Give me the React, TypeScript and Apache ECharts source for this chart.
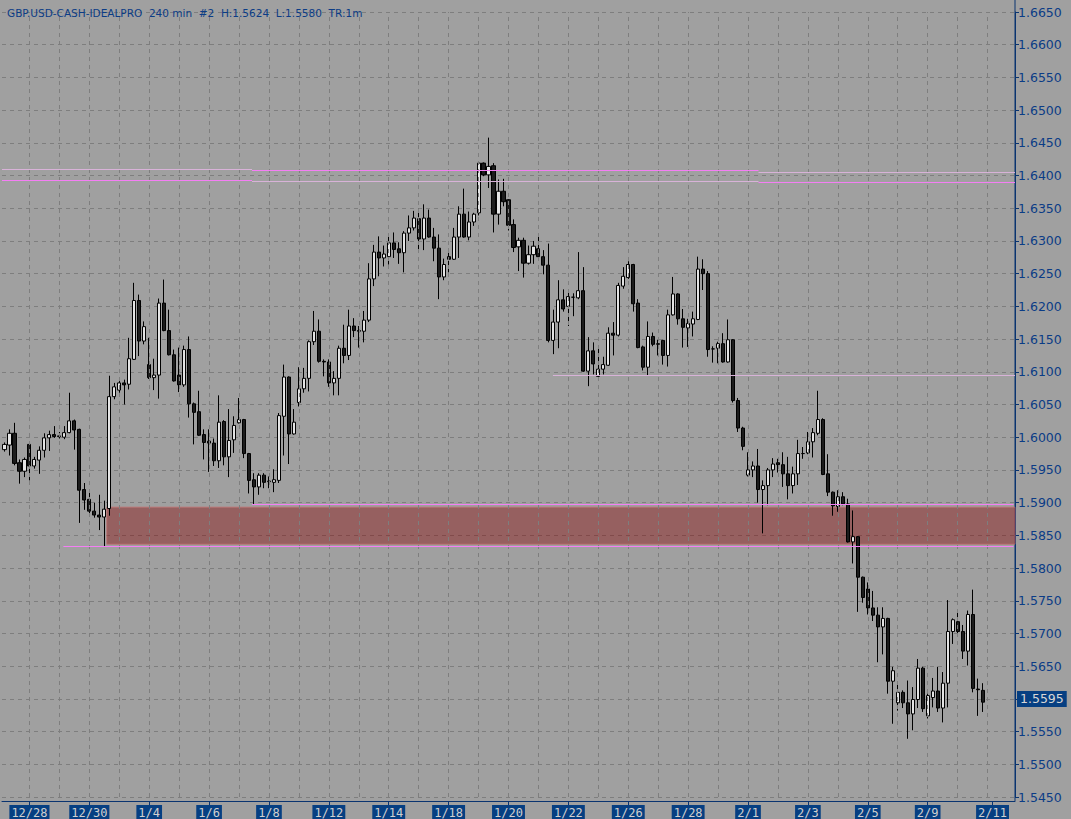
import React, { useEffect, useRef } from 'react';
import * as echarts from 'echarts';

// ---- Data (GBP.USD 240 min bars) ----
const opens = [
  1.5981, 1.5988, 1.6006, 1.5961, 1.5948, 1.5989, 1.5956, 1.5965, 1.5980, 1.5999,
  1.6004, 1.6001, 1.6000, 1.6007, 1.6025, 1.6012, 1.5920, 1.5905, 1.5887, 1.5881,
  1.5878, 1.5891, 1.6062, 1.6072, 1.6083, 1.6081, 1.6119, 1.6209, 1.6147, 1.6111,
  1.6091, 1.6095, 1.6205, 1.6163, 1.6126, 1.6095, 1.6080, 1.6134, 1.6051, 1.6039,
  1.6004, 1.5994, 1.5991, 1.5964, 1.6024, 1.5970, 1.5996, 1.6022, 1.6027, 1.5975,
  1.5935, 1.5924, 1.5942, 1.5932, 1.5931, 1.5934, 1.6032, 1.6092, 1.6005, 1.6053,
  1.6074, 1.6090, 1.6146, 1.6162, 1.6116, 1.6115, 1.6083, 1.6090, 1.6136, 1.6125,
  1.6170, 1.6163, 1.6162, 1.6179, 1.6242, 1.6283, 1.6274, 1.6276, 1.6297, 1.6288,
  1.6282, 1.6312, 1.6320, 1.6334, 1.6303, 1.6335, 1.6306, 1.6289, 1.6245, 1.6276,
  1.6272, 1.6306, 1.6341, 1.6306, 1.6329, 1.6343, 1.6419, 1.6401, 1.6415, 1.6341,
  1.6376, 1.6363, 1.6325, 1.6291, 1.6301, 1.6266, 1.6279, 1.6288, 1.6276, 1.6263,
  1.6148, 1.6176, 1.6210, 1.6200, 1.6214, 1.6213, 1.6224, 1.6101, 1.6132, 1.6093,
  1.6104, 1.6110, 1.6159, 1.6156, 1.6231, 1.6244, 1.6264, 1.6205, 1.6138, 1.6107,
  1.6154, 1.6142, 1.6148, 1.6125, 1.6187, 1.6219, 1.6181, 1.6167, 1.6173, 1.6180,
  1.6257, 1.6250, 1.6135, 1.6136, 1.6143, 1.6115, 1.6149, 1.6056, 1.6014, 1.5942,
  1.5950, 1.5956, 1.5920, 1.5926, 1.5950, 1.5961, 1.5958, 1.5944, 1.5926, 1.5944,
  1.5975, 1.5976, 1.5993, 1.6006, 1.6027, 1.5944, 1.5916, 1.5894, 1.5909, 1.5898,
  1.5840, 1.5848, 1.5786, 1.5768, 1.5739, 1.5728, 1.5710, 1.5723, 1.5627, 1.5594,
  1.5610, 1.5594, 1.5577, 1.5599, 1.5647, 1.5574, 1.5602, 1.5612, 1.5586, 1.5624,
  1.5703, 1.5718, 1.5703, 1.5673, 1.5729, 1.5615, 1.5613
];
const highs = [
  1.5992, 1.6012, 1.6022, 1.5966, 1.5969, 1.5990, 1.5970, 1.5986, 1.6006, 1.6010,
  1.6017, 1.6008, 1.6017, 1.6068, 1.6027, 1.6013, 1.5930, 1.5917, 1.5900, 1.5912,
  1.5903, 1.6094, 1.6083, 1.6088, 1.6088, 1.6152, 1.6236, 1.6218, 1.6177, 1.6152,
  1.6120, 1.6212, 1.6241, 1.6195, 1.6134, 1.6137, 1.6140, 1.6154, 1.6053, 1.6071,
  1.6012, 1.6012, 1.5998, 1.6064, 1.6026, 1.6043, 1.6032, 1.6060, 1.6028, 1.5976,
  1.5945, 1.5945, 1.5945, 1.5940, 1.5951, 1.6037, 1.6111, 1.6093, 1.6043, 1.6107,
  1.6106, 1.6148, 1.6193, 1.6180, 1.6119, 1.6119, 1.6101, 1.6140, 1.6172, 1.6195,
  1.6182, 1.6170, 1.6193, 1.6266, 1.6294, 1.6307, 1.6293, 1.6308, 1.6313, 1.6298,
  1.6315, 1.6339, 1.6346, 1.6349, 1.6356, 1.6348, 1.6320, 1.6310, 1.6273, 1.6288,
  1.6320, 1.6353, 1.6380, 1.6345, 1.6343, 1.6422, 1.6420, 1.6458, 1.6419, 1.6394,
  1.6395, 1.6364, 1.6333, 1.6305, 1.6305, 1.6293, 1.6300, 1.6311, 1.6286, 1.6296,
  1.6195, 1.6240, 1.6226, 1.6225, 1.6220, 1.6283, 1.6260, 1.6153, 1.6145, 1.6136,
  1.6123, 1.6168, 1.6176, 1.6236, 1.6260, 1.6269, 1.6265, 1.6211, 1.6140, 1.6177,
  1.6160, 1.6149, 1.6149, 1.6195, 1.6245, 1.6220, 1.6196, 1.6181, 1.6192, 1.6276,
  1.6272, 1.6254, 1.6139, 1.6146, 1.6159, 1.6180, 1.6150, 1.6060, 1.6016, 1.5977,
  1.5963, 1.5982, 1.5934, 1.5953, 1.5968, 1.5967, 1.5977, 1.5970, 1.5955, 1.5996,
  1.5985, 1.6008, 1.6014, 1.6071, 1.6029, 1.5974, 1.5917, 1.5919, 1.5916, 1.5906,
  1.5888, 1.5849, 1.5787, 1.5778, 1.5765, 1.5740, 1.5740, 1.5724, 1.5649, 1.5623,
  1.5613, 1.5628, 1.5618, 1.5661, 1.5649, 1.5608, 1.5632, 1.5649, 1.5641, 1.5751,
  1.5723, 1.5733, 1.5713, 1.5735, 1.5767, 1.5631, 1.5624
];
const lows = [
  1.5978, 1.5972, 1.5957, 1.5929, 1.5939, 1.5934, 1.5952, 1.5944, 1.5969, 1.5979,
  1.5999, 1.5998, 1.5997, 1.6006, 1.5981, 1.5869, 1.5889, 1.5882, 1.5877, 1.5858,
  1.5833, 1.5880, 1.6058, 1.6068, 1.6050, 1.6073, 1.6118, 1.6124, 1.6142, 1.6089,
  1.6072, 1.6059, 1.6162, 1.6125, 1.6085, 1.6069, 1.6077, 1.6030, 1.5989, 1.6002,
  1.5966, 1.5947, 1.5956, 1.5953, 1.5957, 1.5939, 1.5976, 1.6021, 1.5968, 1.5914,
  1.5897, 1.5912, 1.5922, 1.5922, 1.5916, 1.5930, 1.5972, 1.5959, 1.6004, 1.6047,
  1.6068, 1.6070, 1.6141, 1.6114, 1.6093, 1.6077, 1.6064, 1.6064, 1.6113, 1.6118,
  1.6153, 1.6137, 1.6145, 1.6176, 1.6231, 1.6246, 1.6261, 1.6264, 1.6274, 1.6265,
  1.6252, 1.6300, 1.6316, 1.6286, 1.6286, 1.6305, 1.6269, 1.6211, 1.6240, 1.6252,
  1.6271, 1.6274, 1.6305, 1.6301, 1.6323, 1.6339, 1.6399, 1.6381, 1.6313, 1.6325,
  1.6353, 1.6316, 1.6283, 1.6254, 1.6244, 1.6264, 1.6265, 1.6273, 1.6249, 1.6145,
  1.6127, 1.6136, 1.6192, 1.6170, 1.6185, 1.6211, 1.6100, 1.6078, 1.6096, 1.6092,
  1.6096, 1.6109, 1.6125, 1.6154, 1.6227, 1.6242, 1.6192, 1.6136, 1.6102, 1.6094,
  1.6139, 1.6125, 1.6111, 1.6108, 1.6186, 1.6172, 1.6137, 1.6138, 1.6154, 1.6179,
  1.6225, 1.6123, 1.6114, 1.6113, 1.6114, 1.6114, 1.6053, 1.6008, 1.5980, 1.5940,
  1.5939, 1.5900, 1.5853, 1.5896, 1.5939, 1.5946, 1.5924, 1.5905, 1.5914, 1.5927,
  1.5967, 1.5974, 1.5969, 1.6003, 1.5942, 1.5910, 1.5880, 1.5886, 1.5896, 1.5839,
  1.5807, 1.5733, 1.5747, 1.5729, 1.5719, 1.5656, 1.5668, 1.5608, 1.5562, 1.5582,
  1.5586, 1.5539, 1.5552, 1.5586, 1.5580, 1.5570, 1.5587, 1.5580, 1.5564, 1.5587,
  1.5684, 1.5695, 1.5661, 1.5651, 1.5610, 1.5574, 1.5580
];
const closes = [
  1.5989, 1.6006, 1.5960, 1.5948, 1.5966, 1.5956, 1.5966, 1.5980, 1.5999, 1.6004,
  1.6001, 1.6002, 1.6007, 1.6025, 1.6011, 1.5919, 1.5904, 1.5887, 1.5881, 1.5878,
  1.5890, 1.6062, 1.6077, 1.6083, 1.6080, 1.6120, 1.6209, 1.6147, 1.6169, 1.6091,
  1.6095, 1.6205, 1.6163, 1.6126, 1.6086, 1.6080, 1.6134, 1.6051, 1.6038, 1.6003,
  1.5992, 1.5991, 1.5964, 1.6023, 1.5970, 1.5995, 1.6018, 1.6027, 1.5975, 1.5934,
  1.5924, 1.5942, 1.5931, 1.5933, 1.5935, 1.6033, 1.6092, 1.6005, 1.6023, 1.6074,
  1.6090, 1.6146, 1.6162, 1.6116, 1.6115, 1.6083, 1.6090, 1.6136, 1.6125, 1.6170,
  1.6163, 1.6162, 1.6179, 1.6242, 1.6283, 1.6274, 1.6280, 1.6297, 1.6287, 1.6282,
  1.6312, 1.6320, 1.6335, 1.6303, 1.6335, 1.6306, 1.6289, 1.6245, 1.6264, 1.6272,
  1.6306, 1.6341, 1.6306, 1.6329, 1.6341, 1.6419, 1.6401, 1.6414, 1.6341, 1.6376,
  1.6360, 1.6324, 1.6290, 1.6301, 1.6266, 1.6279, 1.6292, 1.6276, 1.6263, 1.6148,
  1.6176, 1.6210, 1.6196, 1.6215, 1.6214, 1.6224, 1.6101, 1.6132, 1.6112, 1.6104,
  1.6111, 1.6159, 1.6156, 1.6232, 1.6246, 1.6264, 1.6204, 1.6137, 1.6107, 1.6154,
  1.6142, 1.6143, 1.6125, 1.6187, 1.6219, 1.6181, 1.6168, 1.6174, 1.6181, 1.6257,
  1.6250, 1.6134, 1.6135, 1.6143, 1.6115, 1.6149, 1.6056, 1.6014, 1.5986, 1.5950,
  1.5956, 1.5920, 1.5926, 1.5950, 1.5959, 1.5958, 1.5944, 1.5926, 1.5944, 1.5975,
  1.5975, 1.5993, 1.6007, 1.6027, 1.5943, 1.5916, 1.5895, 1.5909, 1.5898, 1.5840,
  1.5848, 1.5786, 1.5755, 1.5739, 1.5728, 1.5710, 1.5723, 1.5627, 1.5643, 1.5610,
  1.5594, 1.5577, 1.5599, 1.5647, 1.5585, 1.5605, 1.5612, 1.5586, 1.5624, 1.5703,
  1.5721, 1.5703, 1.5673, 1.5729, 1.5616, 1.5614, 1.5595
];

// category slots (bars + empty space on the right)
const SLOT_COUNT = 203;
const dateTickIndex = [5, 17, 29, 41, 53, 65, 77, 89, 101, 113, 125, 137, 149, 161, 173, 185, 198];
const dateTickLabel = ['12/28', '12/30', '1/4', '1/6', '1/8', '1/12', '1/14', '1/18', '1/20', '1/22', '1/26', '1/28', '2/1', '2/3', '2/5', '2/9', '2/11'];
const gridLineIndex = [5, 11, 17, 23, 29, 35, 41, 47, 53, 59, 65, 71, 77, 83, 89, 95, 101, 107, 113, 119, 125, 131, 137, 143, 149, 155, 161, 167, 173, 179, 185, 191, 197];

// price axis
const priceMin = 1.545;
const priceMax = 1.665;
const priceStep = 0.005;

// drawn levels: [fromBar, toBar, price, bright(1)/pale(0)]
const levelFrom = [-0.5, -0.5, 49.6, 49.6, 151.1, 151.1, 49.6, 11.8, 109.9];
const levelTo = [49.6, 49.6, 151.1, 151.1, 202.5, 202.5, 202.2, 202.2, 202.5];
const levelPrice = [1.64092, 1.63927, 1.64076, 1.63911, 1.64054, 1.63893, 1.58972, 1.58339, 1.60945];
const levelBright = [0, 1, 1, 0, 0, 1, 1, 1, 0];

// zone rectangle
const zoneFrom = 20.5;
const zoneTo = 202.5;
const zoneTop = 1.58931;
const zoneBottom = 1.58365;

const lastPrice = 1.5595;
const titleText = 'GBP.USD-CASH-IDEALPRO\u00a0\u00a0240 min\u00a0\u00a0#2\u00a0\u00a0H:1.5624\u00a0\u00a0L:1.5580\u00a0\u00a0TR:1m';

const BLUE = '#0b3c86';
const BOX_BLUE = '#063f82';

export default function App() {
  const ref = useRef<HTMLDivElement>(null);

  useEffect(() => {
    if (!ref.current) return;
    const chart = echarts.init(ref.current, undefined, { renderer: 'svg' });

    const categories = Array.from({ length: SLOT_COUNT }, (_, i) => {
      const k = dateTickIndex.indexOf(i);
      return k >= 0 ? dateTickLabel[k] : '';
    });
    const isTick = (i: number) => dateTickIndex.indexOf(i) >= 0;

    const candleData = opens.map((o, i) => [o, closes[i], lows[i], highs[i]]);

    const levelLines = levelPrice.map((p, i) => [
      {
        coord: [levelFrom[i], p],
        lineStyle: {
          color: levelBright[i] ? '#f47ef4' : '#d8b2d8',
          width: 1,
          type: 'solid',
        },
      },
      { coord: [levelTo[i], p] },
    ]);

    const option: any = {
      animation: false,
      backgroundColor: '#a0a0a0',
      title: {
        text: titleText,
        left: 2,
        top: 2,
        textStyle: {
          fontSize: 10.5,
          fontWeight: 'normal',
          color: BLUE,
          fontFamily: 'DejaVu Sans',
        },
      },
      grid: { left: 2, right: 56, top: 12, height: 785 },
      xAxis: [
        {
          type: 'category',
          data: categories,
          boundaryGap: true,
          offset: 4,
          axisLine: { show: true, lineStyle: { color: '#0a3470', width: 1 } },
          axisTick: {
            show: true,
            alignWithLabel: true,
            interval: (i: number) => isTick(i),
            length: 4,
            lineStyle: { color: '#0a3470' },
          },
          axisLabel: {
            interval: (i: number) => isTick(i),
            margin: 4,
            color: '#cfcfcf',
            fontFamily: 'DejaVu Sans Mono',
            fontSize: 12,
            backgroundColor: BOX_BLUE,
            padding: [1, 2, 0, 2],
            lineHeight: 13,
          },
          splitLine: { show: false },
        },
        {
          type: 'value',
          min: -0.5,
          max: 202.5,
          show: false,
          gridIndex: 0,
        },
      ],
      yAxis: [
        {
          type: 'value',
          position: 'right',
          min: priceMin,
          max: priceMax,
          interval: priceStep,
          scale: true,
          axisLine: { show: true, onZero: false, lineStyle: { color: '#0a3470', width: 1 } },
          axisTick: { show: true, inside: false, length: 4, lineStyle: { color: '#0a3470' } },
          axisLabel: {
            margin: 3,
            color: BLUE,
            fontFamily: 'DejaVu Sans',
            fontSize: 12.5,
            formatter: (v: number) => v.toFixed(4),
          },
          splitLine: { show: true, lineStyle: { color: '#7e7e7e', type: [4, 4], width: 1 } },
        },
      ],
      series: [
        {
          type: 'line',
          xAxisIndex: 1,
          yAxisIndex: 0,
          data: [],
          z: 1,
          silent: true,
          markLine: {
            silent: true,
            symbol: ['none', 'none'],
            label: { show: false },
            lineStyle: { color: '#7e7e7e', type: [4, 4], width: 1 },
            data: gridLineIndex.map((i) => ({ xAxis: i })),
          },
        },
        {
          type: 'candlestick',
          xAxisIndex: 0,
          yAxisIndex: 0,
          data: candleData,
          barWidth: 3.6,
          z: 3,
          itemStyle: {
            color: '#e4e4e4',
            color0: '#1c1c1c',
            borderColor: '#000000',
            borderColor0: '#000000',
            borderWidth: 1,
          },
        },
        {
          type: 'line',
          xAxisIndex: 1,
          yAxisIndex: 0,
          data: [],
          z: 6,
          clip: false,
          silent: true,
          markArea: {
            silent: true,
            itemStyle: {
              color: 'rgba(135,0,0,0.4)',
              borderColor: 'rgba(200,110,110,0.7)',
              borderWidth: 1,
            },
            data: [[{ coord: [zoneFrom, zoneTop] }, { coord: [zoneTo, zoneBottom] }]],
          },
          markLine: {
            silent: true,
            symbol: ['none', 'none'],
            label: { show: false },
            data: levelLines,
          },
        },
        {
          type: 'line',
          xAxisIndex: 1,
          yAxisIndex: 0,
          data: [],
          z: 20,
          zlevel: 1,
          clip: false,
          silent: true,
          markLine: {
            silent: true,
            symbol: ['none', 'none'],
            lineStyle: { color: 'rgba(0,0,0,0)', width: 0 },
            label: {
              show: true,
              position: 'end',
              distance: 2,
              formatter: () => lastPrice.toFixed(4),
              color: '#d6d6d6',
              backgroundColor: BOX_BLUE,
              fontFamily: 'DejaVu Sans',
              fontSize: 12.5,
              padding: [2, 3, 1, 3],
            },
            data: [{ yAxis: lastPrice }],
          },
        },
      ],
      graphic: [
        {
          type: 'line',
          silent: true,
          shape: { x1: 1015, y1: 0, x2: 1015, y2: 801 },
          style: { stroke: '#0a3470', lineWidth: 1 },
          z: 0,
        },
      ],
    };

    chart.setOption(option);
    return () => chart.dispose();
  }, []);

  return (
    <div
      ref={ref}
      style={{ position: 'absolute', left: 0, top: 0, width: 1071, height: 819 }}
    />
  );
}
